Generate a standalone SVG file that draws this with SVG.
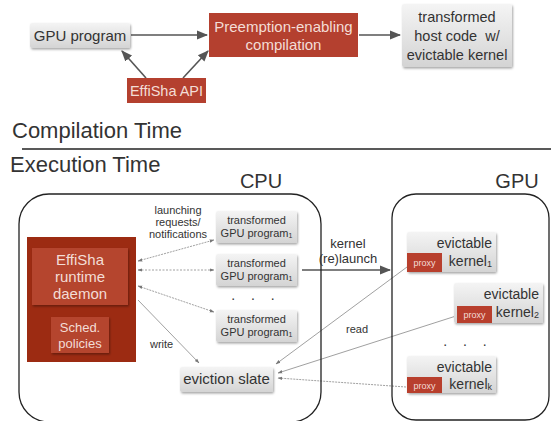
<svg xmlns="http://www.w3.org/2000/svg" width="551" height="421" viewBox="0 0 551 421">
<defs>
<linearGradient id="gray" x1="0" y1="0" x2="0" y2="1">
<stop offset="0" stop-color="#f4f4f4"/>
<stop offset="1" stop-color="#d4d4d4"/>
</linearGradient>
<filter id="sh" x="-10%" y="-10%" width="130%" height="140%">
<feDropShadow dx="1" dy="1.5" stdDeviation="1" flood-color="#000" flood-opacity="0.35"/>
</filter>
<marker id="ah" viewBox="0 0 10 10" refX="9" refY="5" markerWidth="7" markerHeight="7" orient="auto-start-reverse">
<path d="M0,1 L10,5 L0,9 z" fill="#555"/>
</marker>
<marker id="as" viewBox="0 0 10 10" refX="9" refY="5" markerWidth="6" markerHeight="6" orient="auto-start-reverse">
<path d="M0,1.5 L10,5 L0,8.5 z" fill="#777"/>
</marker>
</defs>
<style>
text{font-family:"Liberation Sans",Arial,sans-serif;fill:#333}
.g{fill:url(#gray);filter:url(#sh)}
.r{fill:#b4402f}
.w{fill:#f3ddd6}
.c{text-anchor:middle}
.thick{stroke:#555;stroke-width:1.6;fill:none}
.thin{stroke:#888;stroke-width:0.8;fill:none}
.cont{fill:none;stroke:#222;stroke-width:1.3}
</style>

<g id="connectors">
<line class="thick" x1="131" y1="35" x2="207" y2="35" marker-end="url(#ah)"/>
<line class="thick" x1="359" y1="35" x2="400" y2="35" marker-end="url(#ah)"/>
<line class="thick" x1="146" y1="78" x2="122" y2="51" marker-end="url(#ah)"/>
<line class="thick" x1="183" y1="78" x2="208" y2="51" marker-end="url(#ah)"/>
<line class="thin" x1="138" y1="261" x2="214" y2="240" stroke-dasharray="2,1" marker-start="url(#as)" marker-end="url(#as)"/>
<line class="thin" x1="138" y1="270" x2="214" y2="270" stroke-dasharray="2,1.5" marker-start="url(#as)" marker-end="url(#as)"/>
<line class="thin" x1="138" y1="286" x2="214" y2="312" stroke-dasharray="2,1" marker-start="url(#as)" marker-end="url(#as)"/>
<line class="thin" x1="138" y1="300" x2="199" y2="363" marker-end="url(#as)"/>
<line class="thick" x1="302" y1="270" x2="390" y2="270" marker-end="url(#ah)"/>
<line class="thin" x1="407" y1="267" x2="276" y2="364" marker-end="url(#as)"/>
<line class="thin" x1="456" y1="316" x2="278" y2="373" marker-end="url(#as)"/>
<line class="thin" x1="406" y1="387" x2="278" y2="378" stroke-dasharray="2,1" marker-end="url(#as)"/>
</g>

<g id="gpu-program">
<rect class="g" x="30" y="23" width="100" height="25" rx="2"/>
<text class="c" x="80" y="41" font-size="15">GPU program</text>
</g>
<g id="compilation">
<rect class="r" x="209" y="13" width="149" height="44"/>
<text class="c w" x="283.5" y="32" font-size="15">Preemption-enabling</text>
<text class="c w" x="283.5" y="50" font-size="15">compilation</text>
</g>
<g id="host-code">
<rect class="g" x="402" y="4" width="110" height="63" rx="2"/>
<text class="c" x="457" y="22" font-size="14.5">transformed</text>
<text class="c" x="457" y="41" font-size="14.5" xml:space="preserve">host code  w/</text>
<text class="c" x="457" y="60" font-size="14.5">evictable kernel</text>
</g>
<g id="effisha-api">
<rect class="r" x="127" y="78" width="79" height="25"/>
<text class="c w" x="166.5" y="96" font-size="14.5">EffiSha API</text>
</g>

<text x="12" y="138" font-size="22" fill="#222">Compilation Time</text>
<line x1="22" y1="149" x2="551" y2="149" stroke="#222" stroke-width="1.3"/>
<text x="10" y="172" font-size="22" fill="#222">Execution Time</text>

<g id="cpu">
<rect class="cont" x="19" y="194" width="302" height="228" rx="30"/>
<text class="c" x="261" y="188" font-size="20" fill="#222">CPU</text>
</g>
<g id="gpu">
<rect class="cont" x="392" y="194" width="157" height="226" rx="24"/>
<text class="c" x="517" y="188" font-size="20" fill="#222">GPU</text>
</g>

<g id="daemon">
<rect x="27" y="237" width="109" height="125" fill="#9c2b12"/>
<rect x="32" y="248" width="96" height="57" fill="#b5442e" filter="url(#sh)"/>
<text class="c w" x="80" y="265" font-size="15">EffiSha</text>
<text class="c w" x="80" y="282" font-size="15">runtime</text>
<text class="c w" x="80" y="299" font-size="15">daemon</text>
</g>
<g id="sched">
<rect x="51" y="317" width="58" height="36" fill="#b5442e" filter="url(#sh)"/>
<text class="c w" x="80" y="332" font-size="13">Sched.</text>
<text class="c w" x="80" y="348" font-size="13">policies</text>
</g>

<g id="labels">
<text class="c" x="178" y="214" font-size="11" fill="#555">launching</text>
<text class="c" x="178" y="226" font-size="11" fill="#555">requests/</text>
<text class="c" x="178" y="238" font-size="11" fill="#555">notifications</text>
<text x="150" y="348" font-size="11" fill="#555">write</text>
<text class="c" x="348" y="248" font-size="13" fill="#555">kernel</text>
<text class="c" x="348" y="263" font-size="13" fill="#555">(re)launch</text>
<text x="346" y="333" font-size="11" fill="#555">read</text>
</g>

<g id="prog1">
<rect class="g" x="216" y="211" width="81" height="32" rx="2"/>
<text class="c" x="256.5" y="224" font-size="11" fill="#444">transformed</text>
<text class="c" x="256.5" y="237" font-size="11" fill="#444">GPU program<tspan font-size="7" dy="1">1</tspan></text>
</g>
<g id="prog2">
<rect class="g" x="216" y="254" width="81" height="32" rx="2"/>
<text class="c" x="256.5" y="267" font-size="11" fill="#444">transformed</text>
<text class="c" x="256.5" y="280" font-size="11" fill="#444">GPU program<tspan font-size="7" dy="1">1</tspan></text>
</g>
<text x="256" y="300" font-size="14" class="c" fill="#222" letter-spacing="6">. . .</text>
<g id="prog3">
<rect class="g" x="216" y="310" width="81" height="32" rx="2"/>
<text class="c" x="256.5" y="323" font-size="11" fill="#444">transformed</text>
<text class="c" x="256.5" y="336" font-size="11" fill="#444">GPU program<tspan font-size="7" dy="1">1</tspan></text>
</g>

<g id="eviction-slate">
<rect class="g" x="180" y="367" width="93" height="25" rx="2"/>
<text class="c" x="226.5" y="384" font-size="15">eviction slate</text>
</g>

<g id="kernel1">
<rect class="g" x="407" y="232" width="89" height="40" rx="2"/>
<text x="492" y="248" font-size="14" text-anchor="end">evictable</text>
<text x="492" y="266" font-size="14" text-anchor="end">kernel<tspan font-size="9" dy="1">1</tspan></text>
<rect x="407" y="253" width="35" height="19" fill="#b83f2d"/>
<text class="c w" x="424.5" y="266" font-size="9">proxy</text>
</g>
<g id="kernel2">
<rect class="g" x="454" y="283" width="89" height="40" rx="2"/>
<text x="539" y="299" font-size="14" text-anchor="end">evictable</text>
<text x="539" y="317" font-size="14" text-anchor="end">kernel<tspan font-size="9" dy="1">2</tspan></text>
<rect x="457" y="306" width="35" height="17" fill="#b83f2d"/>
<text class="c w" x="474.5" y="318" font-size="9">proxy</text>
</g>
<text x="468" y="346" font-size="14" class="c" fill="#222" letter-spacing="6">. . .</text>
<g id="kernelk">
<rect class="g" x="407" y="356" width="89" height="37" rx="2"/>
<text x="492" y="372" font-size="14" text-anchor="end">evictable</text>
<text x="492" y="389" font-size="14" text-anchor="end">kernel<tspan font-size="9" dy="1">k</tspan></text>
<rect x="407" y="377" width="35" height="16" fill="#b83f2d"/>
<text class="c w" x="424.5" y="389" font-size="9">proxy</text>
</g>
</svg>
